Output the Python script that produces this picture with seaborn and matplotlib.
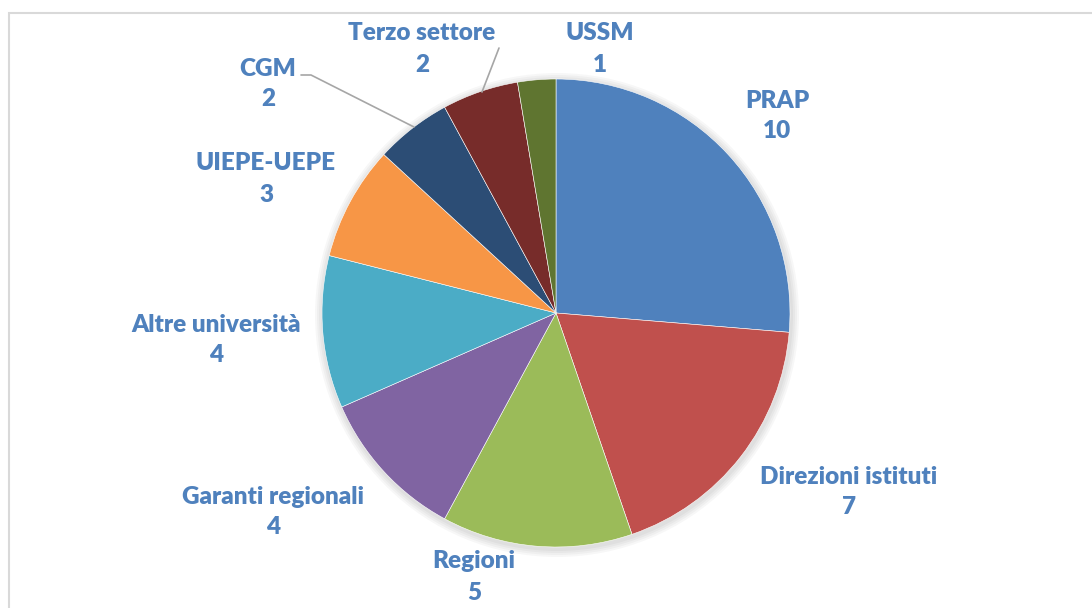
import matplotlib
matplotlib.use("Agg")
import matplotlib.pyplot as plt
import seaborn as sns
from matplotlib.patches import Rectangle, Circle

# dati del grafico
categorie = ['PRAP', 'Direzioni istituti', 'Regioni', 'Garanti regionali',
             'Altre università', 'UIEPE-UEPE', 'CGM', 'Terzo settore', 'USSM']
valori = [10, 7, 5, 4, 4, 3, 2, 2, 1]
colori = ['#4F81BD', '#C0504D', '#9BBB59', '#8064A2', '#4BACC6',
          '#F79646', '#2C4D75', '#772C2A', '#5F7530']

sns.set_theme(style='white')
plt.rcParams['font.family'] = ['Lato', 'DejaVu Sans']

W, H = 1092, 608
fig = plt.figure(figsize=(W / 100, H / 100), dpi=100)
ax = fig.add_axes([0, 0, 1, 1])
ax.set_xlim(0, W)
ax.set_ylim(0, H)
ax.set_aspect('equal')
ax.axis('off')

# cornice grigia del grafico
ax.add_patch(Rectangle((9, -20), W + 20, H - 13 + 20, fill=False,
                       edgecolor='#D9D9D9', linewidth=1.5, zorder=0))

cx, cy, r = 556, H - 313, 234

# ombra leggera
for i, a in enumerate([0.03, 0.03, 0.03, 0.03]):
    ax.add_patch(Circle((cx + 1, cy - 2), r + 2 + 2 * i, color='black',
                        alpha=a, linewidth=0, zorder=1))

wedges, _ = ax.pie(valori, colors=colori, startangle=90, counterclock=False,
                   center=(cx, cy), radius=r, frame=True,
                   wedgeprops=dict(edgecolor='white', linewidth=0.4, zorder=2))
ax.set_xlim(0, W)
ax.set_ylim(0, H)
ax.axis('off')

# posizione etichette (layout, in pixel)
pos_etichette = [(777, 116), (849, 492), (474, 577), (273, 512), (216, 340),
                 (266, 179), (268, 84), (422, 49), (600, 49)]
for nome, v, (x, y) in zip(categorie, valori, pos_etichette):
    ax.text(x, H - y, f'{nome}\n{v}', ha='center', va='center',
            fontsize=17.5, fontweight='heavy', color='#4F81BD',
            linespacing=1.5, zorder=5)

# linee guida
ax.plot([301, 311, 414], [H - 75, H - 75, H - 127], color='#A6A6A6', lw=1.2, zorder=4)
ax.plot([499, 482], [H - 48, H - 92], color='#A6A6A6', lw=1.2, zorder=4)

fig.savefig('out.png', dpi=100)
